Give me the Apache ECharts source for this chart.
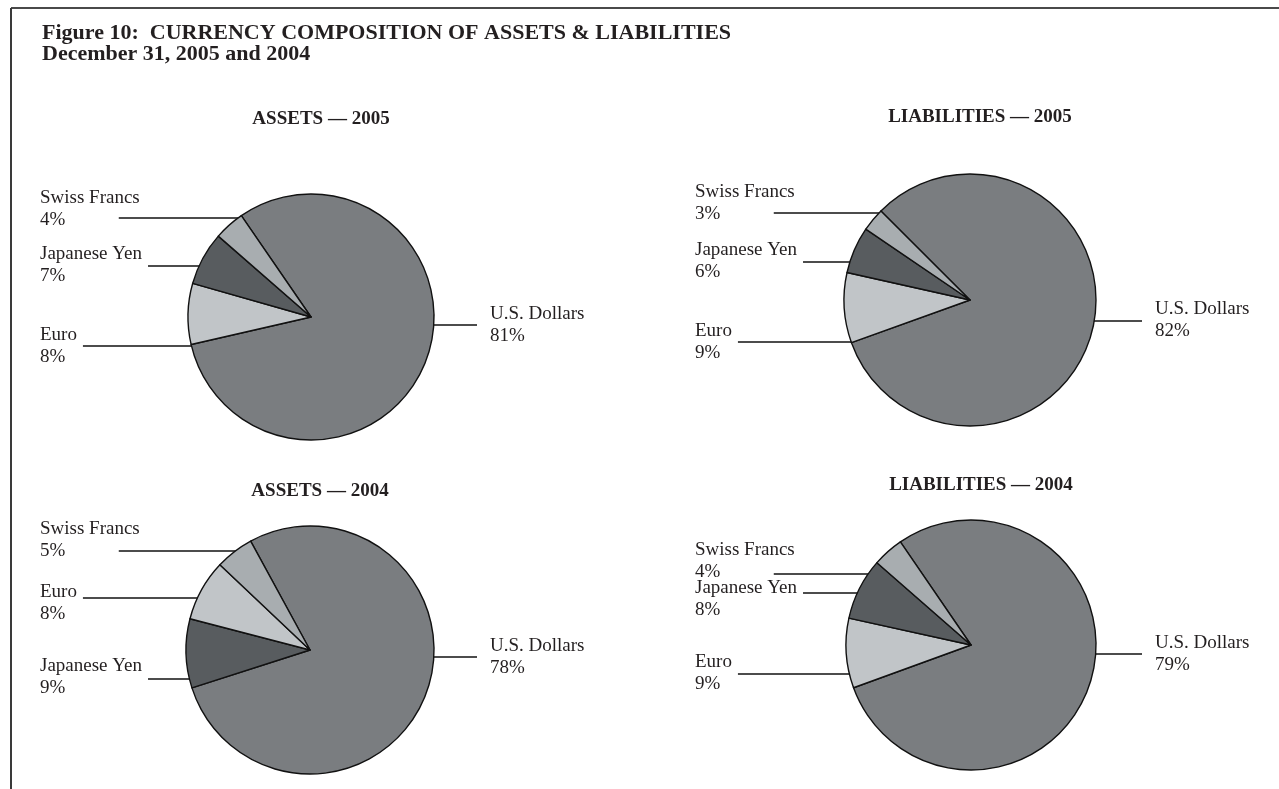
<!DOCTYPE html>
<html>
<head>
<meta charset="utf-8">
<script src="https://cdn.jsdelivr.net/npm/echarts@6/dist/echarts.min.js"></script>
<style>
  html, body { margin: 0; padding: 0; background: #fff; }
  #main { width: 1279px; height: 789px; }
</style>
</head>
<body>
<div id="main"></div>
<script>
// data (percent of total)
const namesA = ['U.S. Dollars', 'Euro', 'Japanese Yen', 'Swiss Francs'];
const namesB = ['U.S. Dollars', 'Japanese Yen', 'Euro', 'Swiss Francs'];
const assets2005 = [81, 8, 7, 4];
const liabilities2005 = [82, 9, 6, 3];
const assets2004 = [78, 9, 8, 5];        // order of namesB
const liabilities2004 = [79, 9, 8, 4];
const pieTitles = ['ASSETS \u2014 2005', 'LIABILITIES \u2014 2005', 'ASSETS \u2014 2004', 'LIABILITIES \u2014 2004'];

const colors = {
  'U.S. Dollars': '#7a7d80',
  'Euro': '#c1c5c8',
  'Japanese Yen': '#585c5f',
  'Swiss Francs': '#a8adb0'
};
const FONT = 'Liberation Serif';

// layout of the four pies (label / leader line heights follow the names order)
const pies = [
  { names: namesA, values: assets2005, cx: 311, cy: 317, r: 123, start: 124.5,
    leftX: 40, rightX: 490, labelY: [325, 346, 265, 209], lineY: [325, 346, 266, 218], titleY: 110 },
  { names: namesA, values: liabilities2005, cx: 970, cy: 300, r: 126, start: 135,
    leftX: 695, rightX: 1155, labelY: [320, 342, 261, 203], lineY: [321, 342, 262, 213], titleY: 108 },
  { names: namesB, values: assets2004, cx: 310, cy: 650, r: 124, start: 118.6,
    leftX: 40, rightX: 490, labelY: [657, 677, 603, 540], lineY: [657, 679, 598, 551], titleY: 482 },
  { names: namesA, values: liabilities2004, cx: 971, cy: 645, r: 125, start: 124.4,
    leftX: 695, rightX: 1155, labelY: [654, 673, 599, 561], lineY: [654, 674, 593, 574], titleY: 476 }
];

function makeLabelLayout(pie) {
  return function (params) {
    const i = params.dataIndex;
    const name = pie.names[i];
    const rect = params.labelRect;
    const onRight = name === 'U.S. Dollars';
    const x = onRight ? pie.rightX : pie.leftX;
    const ly = pie.lineY[i];
    const half = Math.sqrt(Math.max(0, pie.r * pie.r - (ly - pie.cy) * (ly - pie.cy)));
    let a, b;
    if (onRight) {
      a = pie.cx + half - 1;
      b = x - 13;
    } else {
      a = name === 'Swiss Francs' ? x + rect.width - 21 : x + rect.width + 6;
      b = pie.cx - half + 1;
    }
    return {
      x: x,
      y: pie.labelY[i],
      align: 'left',
      verticalAlign: 'middle',
      labelLinePoints: [[a, ly], [(a + b) / 2, ly], [b, ly]]
    };
  };
}

const myChart = echarts.init(document.getElementById('main'));

const titles = [{
  text: 'Figure 10:  CURRENCY COMPOSITION OF ASSETS & LIABILITIES\nDecember 31, 2005 and 2004',
  left: 42,
  top: 23,
  padding: 0,
  textStyle: { fontFamily: FONT, fontWeight: 'bold', fontSize: 22, lineHeight: 21, color: '#231f20' }
}];
pies.forEach(function (p, i) {
  titles.push({
    text: pieTitles[i],
    left: p.cx + 10,
    top: p.titleY,
    padding: 0,
    textAlign: 'center',
    textStyle: { fontFamily: FONT, fontWeight: 'bold', fontSize: 19, lineHeight: 19, color: '#231f20' }
  });
});

const option = {
  animation: false,
  backgroundColor: '#fff',
  title: titles,
  graphic: [
    { type: 'line', shape: { x1: 11, y1: 8, x2: 1279, y2: 8 }, style: { stroke: '#4a4a4a', lineWidth: 2 } },
    { type: 'line', shape: { x1: 11, y1: 8, x2: 11, y2: 789 }, style: { stroke: '#3a3a3a', lineWidth: 2 } }
  ],
  series: pies.map(function (p) {
    return {
      type: 'pie',
      center: [p.cx, p.cy],
      radius: p.r,
      startAngle: p.start,
      clockwise: true,
      avoidLabelOverlap: false,
      silent: true,
      itemStyle: { borderColor: '#111', borderWidth: 1.4 },
      label: {
        show: true,
        position: 'outside',
        formatter: '{b}\n{c}%',
        fontFamily: FONT,
        fontSize: 19,
        lineHeight: 22,
        color: '#231f20'
      },
      labelLine: { show: true, length: 0, length2: 0, lineStyle: { color: '#111', width: 1.5 } },
      labelLayout: makeLabelLayout(p),
      emphasis: { disabled: true },
      data: p.names.map(function (n, k) {
        return { name: n, value: p.values[k], itemStyle: { color: colors[n] } };
      })
    };
  })
};

myChart.setOption(option);
</script>
</body>
</html>
